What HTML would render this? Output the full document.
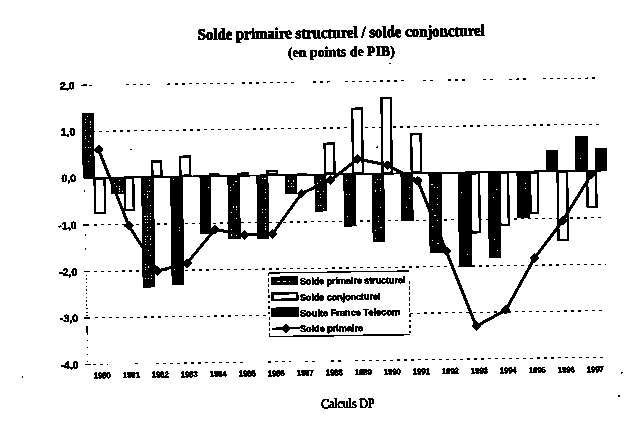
<!DOCTYPE html><html><head><meta charset="utf-8"><style>html,body{margin:0;padding:0;background:#fff;width:638px;height:429px;overflow:hidden}svg{display:block}</style></head><body>
<svg width="638" height="429" viewBox="0 0 638 429">
<defs><filter id="bin" filterUnits="userSpaceOnUse" x="0" y="0" width="638" height="429" color-interpolation-filters="sRGB"><feColorMatrix type="matrix" values="0.3 0.59 0.11 0 0 0.3 0.59 0.11 0 0 0.3 0.59 0.11 0 0 0 0 0 0 1"/><feComponentTransfer><feFuncR type="discrete" tableValues="0 0 1"/><feFuncG type="discrete" tableValues="0 0 1"/><feFuncB type="discrete" tableValues="0 0 1"/></feComponentTransfer></filter></defs>
<g filter="url(#bin)"><rect width="638" height="429" fill="#fff"/>
<g transform="rotate(-0.82 319.0 214.5)">
<text x="200.3" y="38.1" font-family="Liberation Serif, serif" font-weight="bold" font-size="16" stroke="#000" stroke-width="0.6" textLength="287" lengthAdjust="spacingAndGlyphs">Solde primaire structurel / solde conjoncturel</text>
<text x="290.2" y="56.7" font-family="Liberation Serif, serif" font-weight="bold" font-size="14" stroke="#000" stroke-width="0.35" textLength="107" lengthAdjust="spacingAndGlyphs">(en points de PIB)</text>
<text x="318.4" y="408.2" font-family="Liberation Serif, serif" font-size="13.5" stroke="#000" stroke-width="0.55" textLength="53.5" lengthAdjust="spacingAndGlyphs">Calculs DP</text>
<line x1="83.0" y1="82.0" x2="89.0" y2="82.0" stroke="#000" stroke-width="1.4"/>
<line x1="90.5" y1="82.0" x2="93.5" y2="82.0" stroke="#000" stroke-width="1.3" stroke-dasharray="3 4" shape-rendering="crispEdges"/>
<line x1="127.5" y1="82.0" x2="153.5" y2="82.0" stroke="#000" stroke-width="1.3" stroke-dasharray="3 4" shape-rendering="crispEdges"/>
<line x1="168.5" y1="82.0" x2="171.5" y2="82.0" stroke="#000" stroke-width="1.3" stroke-dasharray="3 4" shape-rendering="crispEdges"/>
<line x1="176.5" y1="82.0" x2="239.5" y2="82.0" stroke="#000" stroke-width="1.3" stroke-dasharray="3 4" shape-rendering="crispEdges"/>
<line x1="243.5" y1="82.0" x2="299.5" y2="82.0" stroke="#000" stroke-width="1.3" stroke-dasharray="3 4" shape-rendering="crispEdges"/>
<line x1="314.5" y1="82.0" x2="334.5" y2="82.0" stroke="#000" stroke-width="1.3" stroke-dasharray="3 4" shape-rendering="crispEdges"/>
<line x1="346.5" y1="82.0" x2="407.5" y2="82.0" stroke="#000" stroke-width="1.3" stroke-dasharray="3 4" shape-rendering="crispEdges"/>
<line x1="424.5" y1="82.0" x2="435.5" y2="82.0" stroke="#000" stroke-width="1.3" stroke-dasharray="3 4" shape-rendering="crispEdges"/>
<line x1="449.5" y1="82.0" x2="469.5" y2="82.0" stroke="#000" stroke-width="1.3" stroke-dasharray="3 4" shape-rendering="crispEdges"/>
<line x1="484.5" y1="82.0" x2="494.5" y2="82.0" stroke="#000" stroke-width="1.3" stroke-dasharray="3 4" shape-rendering="crispEdges"/>
<line x1="510.5" y1="82.0" x2="527.5" y2="82.0" stroke="#000" stroke-width="1.3" stroke-dasharray="3 4" shape-rendering="crispEdges"/>
<line x1="544.5" y1="82.0" x2="599.5" y2="82.0" stroke="#000" stroke-width="1.3" stroke-dasharray="3 4" shape-rendering="crispEdges"/>
<text x="76.5" y="85.8" text-anchor="end" font-family="Liberation Sans, sans-serif" font-weight="bold" font-size="10.5" stroke="#000" stroke-width="0.35">2,0</text>
<line x1="83.0" y1="128.2" x2="89.0" y2="128.2" stroke="#000" stroke-width="1.4"/>
<line x1="93.5" y1="128.2" x2="600" y2="128.2" stroke="#000" stroke-width="1.3" stroke-dasharray="3 4" shape-rendering="crispEdges"/>
<text x="76.5" y="132.0" text-anchor="end" font-family="Liberation Sans, sans-serif" font-weight="bold" font-size="10.5" stroke="#000" stroke-width="0.35">1,0</text>
<line x1="83.0" y1="221.7" x2="89.0" y2="221.7" stroke="#000" stroke-width="1.4"/>
<line x1="93.5" y1="221.7" x2="605" y2="221.7" stroke="#000" stroke-width="1.3" stroke-dasharray="3 4" shape-rendering="crispEdges"/>
<text x="76.5" y="225.5" text-anchor="end" font-family="Liberation Sans, sans-serif" font-weight="bold" font-size="10.5" stroke="#000" stroke-width="0.35">-1,0</text>
<line x1="83.0" y1="268.3" x2="89.0" y2="268.3" stroke="#000" stroke-width="1.4"/>
<line x1="93.5" y1="268.3" x2="605" y2="268.3" stroke="#000" stroke-width="1.3" stroke-dasharray="3 4" shape-rendering="crispEdges"/>
<text x="76.5" y="272.1" text-anchor="end" font-family="Liberation Sans, sans-serif" font-weight="bold" font-size="10.5" stroke="#000" stroke-width="0.35">-2,0</text>
<line x1="83.0" y1="314.6" x2="89.0" y2="314.6" stroke="#000" stroke-width="1.4"/>
<line x1="93.5" y1="314.6" x2="605" y2="314.6" stroke="#000" stroke-width="1.3" stroke-dasharray="3 4" shape-rendering="crispEdges"/>
<text x="76.5" y="318.4" text-anchor="end" font-family="Liberation Sans, sans-serif" font-weight="bold" font-size="10.5" stroke="#000" stroke-width="0.35">-3,0</text>
<line x1="83.0" y1="361.2" x2="89.0" y2="361.2" stroke="#000" stroke-width="1.4"/>
<line x1="90.5" y1="361.2" x2="105.5" y2="361.2" stroke="#000" stroke-width="1.3" stroke-dasharray="3 4" shape-rendering="crispEdges"/>
<line x1="132.5" y1="361.2" x2="135.5" y2="361.2" stroke="#000" stroke-width="1.3" stroke-dasharray="3 4" shape-rendering="crispEdges"/>
<line x1="153.5" y1="361.2" x2="243.5" y2="361.2" stroke="#000" stroke-width="1.3" stroke-dasharray="3 4" shape-rendering="crispEdges"/>
<line x1="265.5" y1="361.2" x2="288.5" y2="361.2" stroke="#000" stroke-width="1.3" stroke-dasharray="3 4" shape-rendering="crispEdges"/>
<line x1="302.5" y1="361.2" x2="314.5" y2="361.2" stroke="#000" stroke-width="1.3" stroke-dasharray="3 4" shape-rendering="crispEdges"/>
<line x1="328.5" y1="361.2" x2="341.5" y2="361.2" stroke="#000" stroke-width="1.3" stroke-dasharray="3 4" shape-rendering="crispEdges"/>
<line x1="352.5" y1="361.2" x2="604.5" y2="361.2" stroke="#000" stroke-width="1.3" stroke-dasharray="3 4" shape-rendering="crispEdges"/>
<text x="76.5" y="365.0" text-anchor="end" font-family="Liberation Sans, sans-serif" font-weight="bold" font-size="10.5" stroke="#000" stroke-width="0.35">-4,0</text>
<text x="76.5" y="178.4" text-anchor="end" font-family="Liberation Sans, sans-serif" font-weight="bold" font-size="10.5" stroke="#000" stroke-width="0.35">0,0</text>
<line x1="85.6" y1="271.3" x2="85.6" y2="313.6" stroke="#000" stroke-width="1.1" stroke-dasharray="1.2 2.5"/>
<line x1="85.6" y1="322.6" x2="85.6" y2="331.6" stroke="#000" stroke-width="1.2"/>
<line x1="85.6" y1="336.6" x2="85.6" y2="358.2" stroke="#000" stroke-width="1.1" stroke-dasharray="1 6"/>
<rect x="391.7" y="63.7" width="1.5" height="1.5" fill="#000"/>
<rect x="618.7" y="376.3" width="1.5" height="1.5" fill="#000"/>
<rect x="19.6" y="372.0" width="1.5" height="1.5" fill="#000"/>
<rect x="84.2" y="186.9" width="1.5" height="1.5" fill="#000"/>
<rect x="131.3" y="146.0" width="1.5" height="1.5" fill="#000"/>
<rect x="377.6" y="147.4" width="1.5" height="1.5" fill="#000"/>
<rect x="615.7" y="399.6" width="1.5" height="1.5" fill="#000"/>
<rect x="84.5" y="230.6" width="1.5" height="1.5" fill="#000"/>
<rect x="84.3" y="244.6" width="1.5" height="1.5" fill="#000"/>
<rect x="83.4" y="110.0" width="11.8" height="64.6" fill="#000"/>
<rect x="88.5" y="112.5" width="1.4" height="1.4" fill="#fff"/>
<rect x="85.9" y="115.3" width="1.4" height="1.4" fill="#fff"/>
<rect x="85.9" y="118.1" width="1.4" height="1.4" fill="#fff"/>
<rect x="91.1" y="118.1" width="1.4" height="1.4" fill="#fff"/>
<rect x="88.5" y="120.9" width="1.4" height="1.4" fill="#fff"/>
<rect x="91.1" y="120.9" width="1.4" height="1.4" fill="#fff"/>
<rect x="91.1" y="123.7" width="1.4" height="1.4" fill="#fff"/>
<rect x="85.9" y="126.5" width="1.4" height="1.4" fill="#fff"/>
<rect x="85.9" y="132.1" width="1.4" height="1.4" fill="#fff"/>
<rect x="91.1" y="132.1" width="1.4" height="1.4" fill="#fff"/>
<rect x="85.9" y="134.9" width="1.4" height="1.4" fill="#fff"/>
<rect x="88.5" y="134.9" width="1.4" height="1.4" fill="#fff"/>
<rect x="88.5" y="137.7" width="1.4" height="1.4" fill="#fff"/>
<rect x="85.9" y="143.3" width="1.4" height="1.4" fill="#fff"/>
<rect x="88.5" y="143.3" width="1.4" height="1.4" fill="#fff"/>
<rect x="91.1" y="143.3" width="1.4" height="1.4" fill="#fff"/>
<rect x="91.1" y="148.9" width="1.4" height="1.4" fill="#fff"/>
<rect x="91.1" y="151.7" width="1.4" height="1.4" fill="#fff"/>
<rect x="88.5" y="157.3" width="1.4" height="1.4" fill="#fff"/>
<rect x="85.9" y="160.1" width="1.4" height="1.4" fill="#fff"/>
<rect x="85.9" y="162.9" width="1.4" height="1.4" fill="#fff"/>
<rect x="91.1" y="162.9" width="1.4" height="1.4" fill="#fff"/>
<rect x="95.1" y="175.6" width="10.0" height="34.5" fill="#fff" stroke="#000" stroke-width="2"/>
<rect x="111.5" y="174.6" width="13.3" height="16.3" fill="#000"/>
<rect x="119.2" y="177.1" width="1.4" height="1.4" fill="#fff"/>
<rect x="114.0" y="179.9" width="1.4" height="1.4" fill="#fff"/>
<rect x="116.6" y="182.7" width="1.4" height="1.4" fill="#fff"/>
<rect x="119.2" y="182.7" width="1.4" height="1.4" fill="#fff"/>
<rect x="114.0" y="185.5" width="1.4" height="1.4" fill="#fff"/>
<rect x="116.6" y="185.5" width="1.4" height="1.4" fill="#fff"/>
<rect x="119.2" y="185.5" width="1.4" height="1.4" fill="#fff"/>
<rect x="121.8" y="185.5" width="1.4" height="1.4" fill="#fff"/>
<rect x="114.0" y="188.3" width="1.4" height="1.4" fill="#fff"/>
<rect x="119.2" y="188.3" width="1.4" height="1.4" fill="#fff"/>
<rect x="121.8" y="188.3" width="1.4" height="1.4" fill="#fff"/>
<rect x="125.1" y="175.6" width="8.7" height="31.7" fill="#fff" stroke="#000" stroke-width="2"/>
<rect x="141.8" y="174.6" width="12.5" height="110.3" fill="#000"/>
<rect x="149.5" y="177.1" width="1.4" height="1.4" fill="#fff"/>
<rect x="149.5" y="182.7" width="1.4" height="1.4" fill="#fff"/>
<rect x="146.9" y="188.3" width="1.4" height="1.4" fill="#fff"/>
<rect x="149.5" y="188.3" width="1.4" height="1.4" fill="#fff"/>
<rect x="144.3" y="191.1" width="1.4" height="1.4" fill="#fff"/>
<rect x="146.9" y="191.1" width="1.4" height="1.4" fill="#fff"/>
<rect x="146.9" y="193.9" width="1.4" height="1.4" fill="#fff"/>
<rect x="149.5" y="193.9" width="1.4" height="1.4" fill="#fff"/>
<rect x="149.5" y="202.3" width="1.4" height="1.4" fill="#fff"/>
<rect x="144.3" y="210.7" width="1.4" height="1.4" fill="#fff"/>
<rect x="149.5" y="210.7" width="1.4" height="1.4" fill="#fff"/>
<rect x="144.3" y="213.5" width="1.4" height="1.4" fill="#fff"/>
<rect x="146.9" y="213.5" width="1.4" height="1.4" fill="#fff"/>
<rect x="149.5" y="213.5" width="1.4" height="1.4" fill="#fff"/>
<rect x="144.3" y="216.3" width="1.4" height="1.4" fill="#fff"/>
<rect x="146.9" y="216.3" width="1.4" height="1.4" fill="#fff"/>
<rect x="149.5" y="216.3" width="1.4" height="1.4" fill="#fff"/>
<rect x="144.3" y="219.1" width="1.4" height="1.4" fill="#fff"/>
<rect x="146.9" y="219.1" width="1.4" height="1.4" fill="#fff"/>
<rect x="144.3" y="221.9" width="1.4" height="1.4" fill="#fff"/>
<rect x="144.3" y="224.7" width="1.4" height="1.4" fill="#fff"/>
<rect x="146.9" y="224.7" width="1.4" height="1.4" fill="#fff"/>
<rect x="149.5" y="224.7" width="1.4" height="1.4" fill="#fff"/>
<rect x="146.9" y="227.5" width="1.4" height="1.4" fill="#fff"/>
<rect x="144.3" y="233.1" width="1.4" height="1.4" fill="#fff"/>
<rect x="146.9" y="233.1" width="1.4" height="1.4" fill="#fff"/>
<rect x="149.5" y="233.1" width="1.4" height="1.4" fill="#fff"/>
<rect x="144.3" y="235.9" width="1.4" height="1.4" fill="#fff"/>
<rect x="149.5" y="235.9" width="1.4" height="1.4" fill="#fff"/>
<rect x="144.3" y="238.7" width="1.4" height="1.4" fill="#fff"/>
<rect x="144.3" y="241.5" width="1.4" height="1.4" fill="#fff"/>
<rect x="149.5" y="241.5" width="1.4" height="1.4" fill="#fff"/>
<rect x="146.9" y="247.1" width="1.4" height="1.4" fill="#fff"/>
<rect x="144.3" y="249.9" width="1.4" height="1.4" fill="#fff"/>
<rect x="146.9" y="252.7" width="1.4" height="1.4" fill="#fff"/>
<rect x="149.5" y="252.7" width="1.4" height="1.4" fill="#fff"/>
<rect x="144.3" y="261.1" width="1.4" height="1.4" fill="#fff"/>
<rect x="144.3" y="263.9" width="1.4" height="1.4" fill="#fff"/>
<rect x="146.9" y="263.9" width="1.4" height="1.4" fill="#fff"/>
<rect x="149.5" y="263.9" width="1.4" height="1.4" fill="#fff"/>
<rect x="144.3" y="266.7" width="1.4" height="1.4" fill="#fff"/>
<rect x="149.5" y="272.3" width="1.4" height="1.4" fill="#fff"/>
<rect x="144.3" y="275.1" width="1.4" height="1.4" fill="#fff"/>
<rect x="146.9" y="275.1" width="1.4" height="1.4" fill="#fff"/>
<rect x="149.5" y="275.1" width="1.4" height="1.4" fill="#fff"/>
<rect x="153.0" y="159.2" width="9.0" height="14.5" fill="#fff" stroke="#000" stroke-width="2"/>
<rect x="170.8" y="174.6" width="12.5" height="108.3" fill="#000"/>
<rect x="173.3" y="177.1" width="1.4" height="1.4" fill="#fff"/>
<rect x="173.3" y="202.3" width="1.4" height="1.4" fill="#fff"/>
<rect x="178.5" y="224.7" width="1.4" height="1.4" fill="#fff"/>
<rect x="178.5" y="227.5" width="1.4" height="1.4" fill="#fff"/>
<rect x="175.9" y="263.9" width="1.4" height="1.4" fill="#fff"/>
<rect x="173.3" y="266.7" width="1.4" height="1.4" fill="#fff"/>
<rect x="181.0" y="154.7" width="9.7" height="19.0" fill="#fff" stroke="#000" stroke-width="2"/>
<rect x="200.2" y="174.6" width="10.7" height="57.4" fill="#000"/>
<rect x="207.9" y="182.7" width="1.4" height="1.4" fill="#fff"/>
<rect x="207.9" y="185.5" width="1.4" height="1.4" fill="#fff"/>
<rect x="202.7" y="196.7" width="1.4" height="1.4" fill="#fff"/>
<rect x="210.6" y="172.8" width="8.4" height="0.8" fill="#fff" stroke="#000" stroke-width="2"/>
<rect x="228.1" y="174.6" width="12.2" height="63.3" fill="#000"/>
<rect x="235.8" y="179.9" width="1.4" height="1.4" fill="#fff"/>
<rect x="233.2" y="182.7" width="1.4" height="1.4" fill="#fff"/>
<rect x="230.6" y="185.5" width="1.4" height="1.4" fill="#fff"/>
<rect x="230.6" y="188.3" width="1.4" height="1.4" fill="#fff"/>
<rect x="230.6" y="191.1" width="1.4" height="1.4" fill="#fff"/>
<rect x="230.6" y="205.1" width="1.4" height="1.4" fill="#fff"/>
<rect x="233.2" y="205.1" width="1.4" height="1.4" fill="#fff"/>
<rect x="235.8" y="205.1" width="1.4" height="1.4" fill="#fff"/>
<rect x="235.8" y="207.9" width="1.4" height="1.4" fill="#fff"/>
<rect x="230.6" y="210.7" width="1.4" height="1.4" fill="#fff"/>
<rect x="235.8" y="216.3" width="1.4" height="1.4" fill="#fff"/>
<rect x="230.6" y="227.5" width="1.4" height="1.4" fill="#fff"/>
<rect x="230.6" y="233.1" width="1.4" height="1.4" fill="#fff"/>
<rect x="235.8" y="233.1" width="1.4" height="1.4" fill="#fff"/>
<rect x="238.6" y="172.5" width="9.8" height="1.1" fill="#fff" stroke="#000" stroke-width="2"/>
<rect x="257.1" y="174.6" width="11.7" height="63.5" fill="#000"/>
<rect x="262.2" y="177.1" width="1.4" height="1.4" fill="#fff"/>
<rect x="264.8" y="177.1" width="1.4" height="1.4" fill="#fff"/>
<rect x="264.8" y="188.3" width="1.4" height="1.4" fill="#fff"/>
<rect x="264.8" y="191.1" width="1.4" height="1.4" fill="#fff"/>
<rect x="264.8" y="196.7" width="1.4" height="1.4" fill="#fff"/>
<rect x="262.2" y="207.9" width="1.4" height="1.4" fill="#fff"/>
<rect x="264.8" y="207.9" width="1.4" height="1.4" fill="#fff"/>
<rect x="262.2" y="210.7" width="1.4" height="1.4" fill="#fff"/>
<rect x="264.8" y="216.3" width="1.4" height="1.4" fill="#fff"/>
<rect x="264.8" y="221.9" width="1.4" height="1.4" fill="#fff"/>
<rect x="264.8" y="224.7" width="1.4" height="1.4" fill="#fff"/>
<rect x="264.8" y="227.5" width="1.4" height="1.4" fill="#fff"/>
<rect x="267.9" y="170.6" width="9.7" height="3.0" fill="#fff" stroke="#000" stroke-width="2"/>
<rect x="285.8" y="174.6" width="11.1" height="18.6" fill="#000"/>
<rect x="288.3" y="179.9" width="1.4" height="1.4" fill="#fff"/>
<rect x="290.9" y="179.9" width="1.4" height="1.4" fill="#fff"/>
<rect x="293.5" y="179.9" width="1.4" height="1.4" fill="#fff"/>
<rect x="290.9" y="182.7" width="1.4" height="1.4" fill="#fff"/>
<rect x="288.3" y="185.5" width="1.4" height="1.4" fill="#fff"/>
<rect x="290.9" y="185.5" width="1.4" height="1.4" fill="#fff"/>
<rect x="293.5" y="185.5" width="1.4" height="1.4" fill="#fff"/>
<rect x="298.6" y="174.1" width="8.0" height="0.5" fill="#fff" stroke="#000" stroke-width="2"/>
<rect x="315.1" y="174.6" width="11.7" height="36.8" fill="#000"/>
<rect x="320.2" y="179.9" width="1.4" height="1.4" fill="#fff"/>
<rect x="317.6" y="182.7" width="1.4" height="1.4" fill="#fff"/>
<rect x="317.6" y="185.5" width="1.4" height="1.4" fill="#fff"/>
<rect x="322.8" y="188.3" width="1.4" height="1.4" fill="#fff"/>
<rect x="317.6" y="191.1" width="1.4" height="1.4" fill="#fff"/>
<rect x="322.8" y="191.1" width="1.4" height="1.4" fill="#fff"/>
<rect x="320.2" y="193.9" width="1.4" height="1.4" fill="#fff"/>
<rect x="320.2" y="196.7" width="1.4" height="1.4" fill="#fff"/>
<rect x="317.6" y="202.3" width="1.4" height="1.4" fill="#fff"/>
<rect x="317.6" y="205.1" width="1.4" height="1.4" fill="#fff"/>
<rect x="320.2" y="205.1" width="1.4" height="1.4" fill="#fff"/>
<rect x="322.8" y="207.9" width="1.4" height="1.4" fill="#fff"/>
<rect x="325.6" y="143.7" width="9.5" height="30.0" fill="#fff" stroke="#000" stroke-width="2"/>
<rect x="344.0" y="174.6" width="12.2" height="52.2" fill="#000"/>
<rect x="346.5" y="179.9" width="1.4" height="1.4" fill="#fff"/>
<rect x="346.5" y="193.9" width="1.4" height="1.4" fill="#fff"/>
<rect x="349.1" y="193.9" width="1.4" height="1.4" fill="#fff"/>
<rect x="346.5" y="210.7" width="1.4" height="1.4" fill="#fff"/>
<rect x="346.5" y="216.3" width="1.4" height="1.4" fill="#fff"/>
<rect x="353.7" y="109.1" width="9.7" height="64.6" fill="#fff" stroke="#000" stroke-width="2"/>
<rect x="372.4" y="174.6" width="12.3" height="67.8" fill="#000"/>
<rect x="377.5" y="179.9" width="1.4" height="1.4" fill="#fff"/>
<rect x="380.1" y="179.9" width="1.4" height="1.4" fill="#fff"/>
<rect x="374.9" y="182.7" width="1.4" height="1.4" fill="#fff"/>
<rect x="377.5" y="188.3" width="1.4" height="1.4" fill="#fff"/>
<rect x="380.1" y="188.3" width="1.4" height="1.4" fill="#fff"/>
<rect x="374.9" y="191.1" width="1.4" height="1.4" fill="#fff"/>
<rect x="380.1" y="191.1" width="1.4" height="1.4" fill="#fff"/>
<rect x="377.5" y="202.3" width="1.4" height="1.4" fill="#fff"/>
<rect x="377.5" y="205.1" width="1.4" height="1.4" fill="#fff"/>
<rect x="380.1" y="207.9" width="1.4" height="1.4" fill="#fff"/>
<rect x="377.5" y="216.3" width="1.4" height="1.4" fill="#fff"/>
<rect x="380.1" y="216.3" width="1.4" height="1.4" fill="#fff"/>
<rect x="377.5" y="221.9" width="1.4" height="1.4" fill="#fff"/>
<rect x="380.1" y="227.5" width="1.4" height="1.4" fill="#fff"/>
<rect x="374.9" y="230.3" width="1.4" height="1.4" fill="#fff"/>
<rect x="374.9" y="238.7" width="1.4" height="1.4" fill="#fff"/>
<rect x="383.1" y="99.0" width="9.3" height="74.7" fill="#fff" stroke="#000" stroke-width="2"/>
<rect x="401.2" y="174.6" width="12.2" height="47.6" fill="#000"/>
<rect x="408.9" y="182.7" width="1.4" height="1.4" fill="#fff"/>
<rect x="408.9" y="188.3" width="1.4" height="1.4" fill="#fff"/>
<rect x="408.9" y="199.5" width="1.4" height="1.4" fill="#fff"/>
<rect x="406.3" y="207.9" width="1.4" height="1.4" fill="#fff"/>
<rect x="412.3" y="135.7" width="9.4" height="37.9" fill="#fff" stroke="#000" stroke-width="2"/>
<rect x="429.2" y="174.6" width="12.8" height="80.0" fill="#000"/>
<rect x="431.7" y="185.5" width="1.4" height="1.4" fill="#fff"/>
<rect x="434.3" y="188.3" width="1.4" height="1.4" fill="#fff"/>
<rect x="436.9" y="188.3" width="1.4" height="1.4" fill="#fff"/>
<rect x="431.7" y="191.1" width="1.4" height="1.4" fill="#fff"/>
<rect x="436.9" y="199.5" width="1.4" height="1.4" fill="#fff"/>
<rect x="436.9" y="205.1" width="1.4" height="1.4" fill="#fff"/>
<rect x="431.7" y="210.7" width="1.4" height="1.4" fill="#fff"/>
<rect x="434.3" y="216.3" width="1.4" height="1.4" fill="#fff"/>
<rect x="436.9" y="221.9" width="1.4" height="1.4" fill="#fff"/>
<rect x="431.7" y="227.5" width="1.4" height="1.4" fill="#fff"/>
<rect x="434.3" y="227.5" width="1.4" height="1.4" fill="#fff"/>
<rect x="436.9" y="227.5" width="1.4" height="1.4" fill="#fff"/>
<rect x="431.7" y="241.5" width="1.4" height="1.4" fill="#fff"/>
<rect x="436.9" y="244.3" width="1.4" height="1.4" fill="#fff"/>
<rect x="458.4" y="174.6" width="12.7" height="94.7" fill="#000"/>
<rect x="460.9" y="193.9" width="1.4" height="1.4" fill="#fff"/>
<rect x="466.1" y="255.5" width="1.4" height="1.4" fill="#fff"/>
<rect x="471.1" y="175.6" width="8.5" height="59.0" fill="#fff" stroke="#000" stroke-width="2"/>
<rect x="488.3" y="174.6" width="12.0" height="85.4" fill="#000"/>
<rect x="496.0" y="191.1" width="1.4" height="1.4" fill="#fff"/>
<rect x="493.4" y="199.5" width="1.4" height="1.4" fill="#fff"/>
<rect x="493.4" y="241.5" width="1.4" height="1.4" fill="#fff"/>
<rect x="496.0" y="252.7" width="1.4" height="1.4" fill="#fff"/>
<rect x="500.2" y="175.6" width="8.4" height="52.3" fill="#fff" stroke="#000" stroke-width="2"/>
<rect x="517.2" y="174.6" width="12.3" height="46.3" fill="#000"/>
<rect x="524.9" y="185.5" width="1.4" height="1.4" fill="#fff"/>
<rect x="524.9" y="191.1" width="1.4" height="1.4" fill="#fff"/>
<rect x="530.6" y="175.6" width="7.7" height="40.4" fill="#fff" stroke="#000" stroke-width="2"/>
<rect x="546.9" y="153.3" width="11.5" height="21.3" fill="#000"/>
<rect x="558.1" y="175.6" width="9.6" height="67.6" fill="#fff" stroke="#000" stroke-width="2"/>
<rect x="575.9" y="139.5" width="12.6" height="35.2" fill="#000"/>
<rect x="581.0" y="161.6" width="1.4" height="1.4" fill="#fff"/>
<rect x="587.7" y="175.6" width="8.9" height="35.1" fill="#fff" stroke="#000" stroke-width="2"/>
<rect x="595.7" y="152.1" width="12.0" height="22.5" fill="#000"/>
<line x1="84.5" y1="174.6" x2="607" y2="174.6" stroke="#000" stroke-width="1.6"/>
<polyline fill="none" stroke="#000" stroke-width="2.8" stroke-linejoin="round" points="99.6,146.5 128.8,223.2 157.0,268.7 186.4,261.2 214.6,228.0 244.0,233.9 272.1,233.3 301.8,193.2 331.3,180.2 358.6,159.4 388.2,166.2 418.1,182.0 445.6,252.8 474.6,328.4 504.5,312.7 533.9,261.2 562.9,223.8 591.9,178.4"/>
<path d="M99.6 141.7 L104.4 146.5 L99.6 151.3 L94.8 146.5Z" fill="#000"/>
<path d="M128.8 218.4 L133.6 223.2 L128.8 228.0 L124.0 223.2Z" fill="#000"/>
<path d="M157.0 263.9 L161.8 268.7 L157.0 273.5 L152.2 268.7Z" fill="#000"/>
<path d="M186.4 256.4 L191.2 261.2 L186.4 266.0 L181.6 261.2Z" fill="#000"/>
<path d="M214.6 223.2 L219.4 228.0 L214.6 232.8 L209.8 228.0Z" fill="#000"/>
<path d="M244.0 229.1 L248.8 233.9 L244.0 238.7 L239.2 233.9Z" fill="#000"/>
<path d="M272.1 228.5 L276.9 233.3 L272.1 238.1 L267.3 233.3Z" fill="#000"/>
<path d="M301.8 188.4 L306.6 193.2 L301.8 198.0 L297.0 193.2Z" fill="#000"/>
<path d="M331.3 175.4 L336.1 180.2 L331.3 185.0 L326.5 180.2Z" fill="#000"/>
<path d="M358.6 154.6 L363.4 159.4 L358.6 164.2 L353.8 159.4Z" fill="#000"/>
<path d="M388.2 161.4 L393.0 166.2 L388.2 171.0 L383.4 166.2Z" fill="#000"/>
<path d="M418.1 177.2 L422.9 182.0 L418.1 186.8 L413.3 182.0Z" fill="#000"/>
<path d="M445.6 248.0 L450.4 252.8 L445.6 257.6 L440.8 252.8Z" fill="#000"/>
<path d="M474.6 323.6 L479.4 328.4 L474.6 333.2 L469.8 328.4Z" fill="#000"/>
<path d="M504.5 307.9 L509.3 312.7 L504.5 317.5 L499.7 312.7Z" fill="#000"/>
<path d="M533.9 256.4 L538.7 261.2 L533.9 266.0 L529.1 261.2Z" fill="#000"/>
<path d="M562.9 219.0 L567.7 223.8 L562.9 228.6 L558.1 223.8Z" fill="#000"/>
<path d="M591.9 173.6 L596.7 178.4 L591.9 183.2 L587.1 178.4Z" fill="#000"/>
<text x="91.7" y="375.1" font-family="Liberation Sans, sans-serif" font-weight="bold" font-size="8.4" stroke="#000" stroke-width="0.45" textLength="16.6" lengthAdjust="spacingAndGlyphs">1980</text>
<text x="120.7" y="375.1" font-family="Liberation Sans, sans-serif" font-weight="bold" font-size="8.4" stroke="#000" stroke-width="0.45" textLength="16.6" lengthAdjust="spacingAndGlyphs">1981</text>
<text x="149.7" y="375.2" font-family="Liberation Sans, sans-serif" font-weight="bold" font-size="8.4" stroke="#000" stroke-width="0.45" textLength="16.6" lengthAdjust="spacingAndGlyphs">1982</text>
<text x="178.7" y="375.3" font-family="Liberation Sans, sans-serif" font-weight="bold" font-size="8.4" stroke="#000" stroke-width="0.45" textLength="16.6" lengthAdjust="spacingAndGlyphs">1983</text>
<text x="207.7" y="375.3" font-family="Liberation Sans, sans-serif" font-weight="bold" font-size="8.4" stroke="#000" stroke-width="0.45" textLength="16.6" lengthAdjust="spacingAndGlyphs">1984</text>
<text x="236.7" y="375.4" font-family="Liberation Sans, sans-serif" font-weight="bold" font-size="8.4" stroke="#000" stroke-width="0.45" textLength="16.6" lengthAdjust="spacingAndGlyphs">1985</text>
<text x="265.7" y="375.5" font-family="Liberation Sans, sans-serif" font-weight="bold" font-size="8.4" stroke="#000" stroke-width="0.45" textLength="16.6" lengthAdjust="spacingAndGlyphs">1986</text>
<text x="294.7" y="375.5" font-family="Liberation Sans, sans-serif" font-weight="bold" font-size="8.4" stroke="#000" stroke-width="0.45" textLength="16.6" lengthAdjust="spacingAndGlyphs">1987</text>
<text x="323.7" y="375.6" font-family="Liberation Sans, sans-serif" font-weight="bold" font-size="8.4" stroke="#000" stroke-width="0.45" textLength="16.6" lengthAdjust="spacingAndGlyphs">1988</text>
<text x="352.7" y="375.6" font-family="Liberation Sans, sans-serif" font-weight="bold" font-size="8.4" stroke="#000" stroke-width="0.45" textLength="16.6" lengthAdjust="spacingAndGlyphs">1989</text>
<text x="381.8" y="375.7" font-family="Liberation Sans, sans-serif" font-weight="bold" font-size="8.4" stroke="#000" stroke-width="0.45" textLength="16.6" lengthAdjust="spacingAndGlyphs">1990</text>
<text x="410.8" y="375.8" font-family="Liberation Sans, sans-serif" font-weight="bold" font-size="8.4" stroke="#000" stroke-width="0.45" textLength="16.6" lengthAdjust="spacingAndGlyphs">1991</text>
<text x="439.8" y="375.8" font-family="Liberation Sans, sans-serif" font-weight="bold" font-size="8.4" stroke="#000" stroke-width="0.45" textLength="16.6" lengthAdjust="spacingAndGlyphs">1992</text>
<text x="468.8" y="375.9" font-family="Liberation Sans, sans-serif" font-weight="bold" font-size="8.4" stroke="#000" stroke-width="0.45" textLength="16.6" lengthAdjust="spacingAndGlyphs">1993</text>
<text x="497.8" y="376.0" font-family="Liberation Sans, sans-serif" font-weight="bold" font-size="8.4" stroke="#000" stroke-width="0.45" textLength="16.6" lengthAdjust="spacingAndGlyphs">1994</text>
<text x="526.8" y="376.0" font-family="Liberation Sans, sans-serif" font-weight="bold" font-size="8.4" stroke="#000" stroke-width="0.45" textLength="16.6" lengthAdjust="spacingAndGlyphs">1995</text>
<text x="555.8" y="376.1" font-family="Liberation Sans, sans-serif" font-weight="bold" font-size="8.4" stroke="#000" stroke-width="0.45" textLength="16.6" lengthAdjust="spacingAndGlyphs">1996</text>
<text x="584.8" y="376.1" font-family="Liberation Sans, sans-serif" font-weight="bold" font-size="8.4" stroke="#000" stroke-width="0.45" textLength="16.6" lengthAdjust="spacingAndGlyphs">1997</text>
<rect x="267.7" y="272.3" width="140.7" height="63.6" fill="#fff"/>
<line x1="267.7" y1="272.3" x2="408.4" y2="272.3" stroke="#000" stroke-width="1.1"/>
<line x1="267.7" y1="335.9" x2="408.4" y2="335.9" stroke="#000" stroke-width="1.3"/>
<line x1="267.7" y1="272.3" x2="267.7" y2="335.9" stroke="#000" stroke-width="1" stroke-dasharray="3 2.5"/>
<line x1="408.4" y1="282.3" x2="408.4" y2="335.9" stroke="#000" stroke-width="1" stroke-dasharray="3 2.5"/>
<rect x="270.2" y="276.1" width="27" height="8" fill="#000"/>
<line x1="275.2" y1="280.6" x2="293.2" y2="280.6" stroke="#fff" stroke-width="1.2" stroke-dasharray="4 2"/>
<rect x="271.4" y="292.7" width="24.6" height="6.6" fill="#fff" stroke="#000" stroke-width="2.4"/>
<rect x="270.2" y="307.0" width="27" height="9.5" fill="#000"/>
<line x1="270.2" y1="327.9" x2="298.2" y2="327.9" stroke="#000" stroke-width="1.8"/>
<path d="M284.2 323.4 L289.2 327.9 L284.2 332.4 L279.2 327.9Z" fill="#000"/>
<text x="299.0" y="284.3" font-family="Liberation Sans, sans-serif" font-weight="bold" font-size="9.4" stroke="#000" stroke-width="0.4" textLength="105.4" lengthAdjust="spacingAndGlyphs">Solde primaire structurel</text>
<text x="298.8" y="300.5" font-family="Liberation Sans, sans-serif" font-weight="bold" font-size="9.4" stroke="#000" stroke-width="0.4" textLength="80.3" lengthAdjust="spacingAndGlyphs">Solde conjoncturel</text>
<text x="298.5" y="316.2" font-family="Liberation Sans, sans-serif" font-weight="bold" font-size="9.4" stroke="#000" stroke-width="0.4" textLength="100.4" lengthAdjust="spacingAndGlyphs">Soulte France Telecom</text>
<text x="298.3" y="331.7" font-family="Liberation Sans, sans-serif" font-weight="bold" font-size="9.4" stroke="#000" stroke-width="0.4" textLength="63.1" lengthAdjust="spacingAndGlyphs">Solde primaire</text>
</g></g></svg></body></html>
